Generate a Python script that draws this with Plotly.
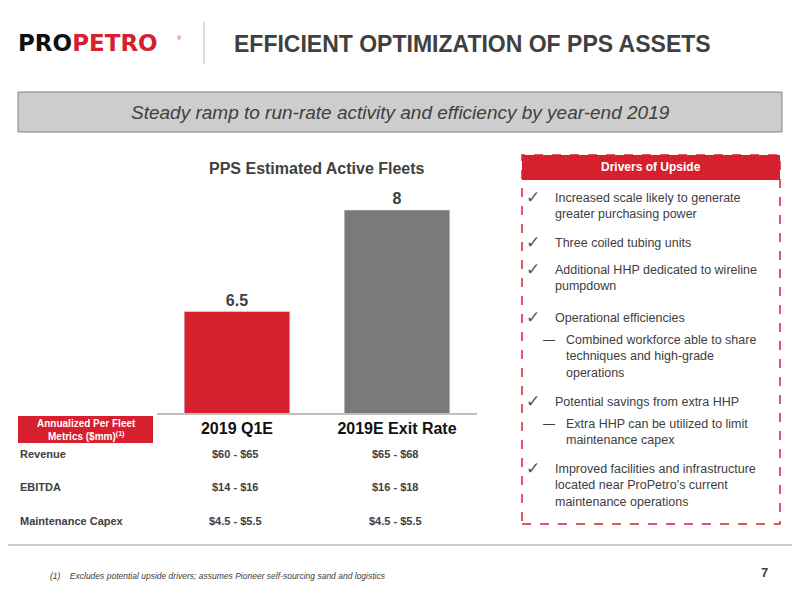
import plotly.graph_objects as go

periods = ["2019 Q1E", "2019E Exit Rate"]
fleets = [6.5, 8]
bar_colors = ["#d7202e", "#7a7a7a"]

metric_names = ["Revenue", "EBITDA", "Maintenance Capex"]
q1_values = ["$60 - $65", "$14 - $16", "$4.5 - $5.5"]
exit_values = ["$65 - $68", "$16 - $18", "$4.5 - $5.5"]

drivers = [
    ("check", "Increased scale likely to generate<br>greater purchasing power"),
    ("check", "Three coiled tubing units"),
    ("check", "Additional HHP dedicated to wireline<br>pumpdown"),
    ("check", "Operational efficiencies"),
    ("dash", "Combined workforce able to share<br>techniques and high-grade<br>operations"),
    ("check", "Potential savings from extra HHP"),
    ("dash", "Extra HHP can be utilized to limit<br>maintenance capex"),
    ("check", "Improved facilities and infrastructure<br>located near ProPetro’s current<br>maintenance operations"),
]
driver_y = [189, 234, 261, 309, 331, 393, 415, 460]

RED = "#d7202e"
OFF = 8
W, H = 800 - 2 * OFF, 600 - 2 * OFF


def px_x(x):
    return (x - OFF) / W


def px_y(y):
    return 1 - (y - OFF) / H


def label(x, y, text, size, color="#404040", xa="center", ya="middle", family="Arial", align="center"):
    return dict(x=px_x(x), y=px_y(y), xref="paper", yref="paper", xanchor=xa, yanchor=ya,
                align=align, text=text, showarrow=False,
                font=dict(size=size, color=color, family=family))


fig = go.Figure()
fig.add_trace(go.Bar(
    x=periods, y=fleets, marker_color=bar_colors,
    text=["<b>" + str(v) + "</b>" for v in fleets], textposition="outside",
    textfont=dict(size=16, color="#404040", family="Arial"),
    cliponaxis=False, width=0.66,
))

shapes = []
ann = []

# header
ann.append(label(16, 43, "<b>PRO<span style='color:" + RED + "'>PETRO</span></b>", 23,
                 "#111111", xa="left", family="DejaVu Sans"))
ann.append(label(175, 38, "®", 6, RED, xa="left"))
shapes.append(dict(type="line", xref="paper", yref="paper", x0=px_x(204), x1=px_x(204),
                   y0=px_y(22), y1=px_y(64), line=dict(color="#bbbbbb", width=1)))
ann.append(label(232, 44, "<b>EFFICIENT OPTIMIZATION OF PPS ASSETS</b>", 23, xa="left"))

# banner
shapes.append(dict(type="rect", xref="paper", yref="paper", x0=px_x(18), x1=px_x(782),
                   y0=px_y(132), y1=px_y(92), fillcolor="#cdcdcd", layer="below",
                   line=dict(color="#7f7f7f", width=1)))
ann.append(label(400, 112, "<i>Steady ramp to run-rate activity and efficiency by year-end 2019</i>", 19))

# chart title
ann.append(label(317, 168, "<b>PPS Estimated Active Fleets</b>", 16))

# metrics table
shapes.append(dict(type="rect", xref="paper", yref="paper", x0=px_x(18), x1=px_x(153),
                   y0=px_y(443), y1=px_y(416), fillcolor=RED, layer="below", line=dict(width=0)))
ann.append(label(86, 430, "<b>Annualized Per Fleet<br>Metrics ($mm)<sup>(1)</sup></b>", 10, "white"))
row_y = [454, 487, 521]
for name, a, b, y in zip(metric_names, q1_values, exit_values, row_y):
    ann.append(label(18, y, "<b>" + name + "</b>", 11, xa="left"))
    ann.append(label(235, y, "<b>" + a + "</b>", 11))
    ann.append(label(395, y, "<b>" + b + "</b>", 11))

# drivers box
shapes.append(dict(type="rect", xref="paper", yref="paper", x0=px_x(522), x1=px_x(780),
                   y0=px_y(180), y1=px_y(155), fillcolor=RED, layer="below", line=dict(width=0)))
shapes.append(dict(type="rect", xref="paper", yref="paper", x0=px_x(522), x1=px_x(780),
                   y0=px_y(524), y1=px_y(155), line=dict(color=RED, width=1.5, dash="dash")))
ann.append(label(651, 167, "<b>Drivers of Upside</b>", 12, "white"))
for (kind, txt), y in zip(drivers, driver_y):
    if kind == "check":
        ann.append(label(524, y - 4, "✓", 17, "#555555", xa="left", ya="top", family="DejaVu Sans"))
        tx = 553
    else:
        ann.append(label(541, y, "—", 12, xa="left", ya="top"))
        tx = 564
    ann.append(label(tx, y, txt, 12.5, xa="left", ya="top", align="left"))

# footer
shapes.append(dict(type="line", xref="paper", yref="paper", x0=0, x1=1,
                   y0=px_y(545), y1=px_y(545), line=dict(color="#cccccc", width=2)))
ann.append(label(48, 576, "<i>(1)    Excludes potential upside drivers; assumes Pioneer self-sourcing sand and logistics</i>",
                 8.5, xa="left"))
ann.append(label(770, 572, "<b>7</b>", 13, xa="right"))

fig.update_layout(
    width=W, height=H, margin=dict(l=0, r=0, t=0, b=0),
    plot_bgcolor="rgba(0,0,0,0)", paper_bgcolor="white", showlegend=False,
    shapes=shapes, annotations=ann, bargap=0.34,
    xaxis=dict(domain=[px_x(157), px_x(477)], showgrid=False, showline=True,
               linecolor="#bfbfbf", linewidth=2, ticks="",
               tickvals=periods, ticktext=["<b>" + p + "</b>" for p in periods],
               tickfont=dict(size=16, color="#111111", family="Arial")),
    yaxis=dict(domain=[px_y(413), px_y(210)], range=[5, 8], visible=False),
)
fig.write_html("out.html")
